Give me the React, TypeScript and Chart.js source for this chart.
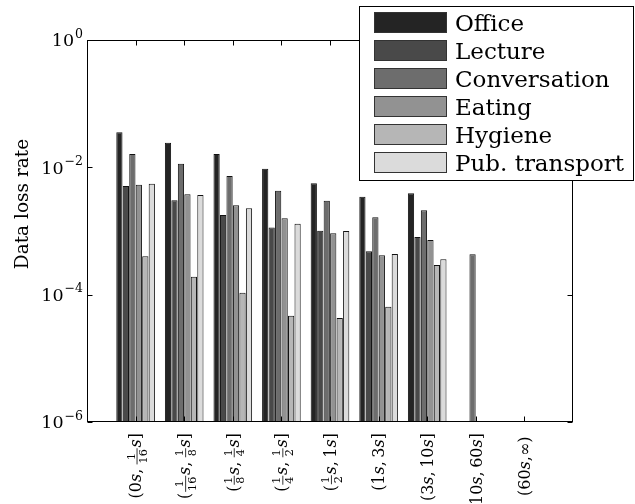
import { useEffect, useRef } from "react";
import { Chart, registerables } from "chart.js";

Chart.register(...registerables);

// ---- data ----
const categories = [
  "(0s, 1/16s]",
  "(1/16s, 1/8s]",
  "(1/8s, 1/4s]",
  "(1/4s, 1/2s]",
  "(1/2s, 1s]",
  "(1s, 3s]",
  "(3s, 10s]",
  "(10s, 60s]",
  "(60s, ∞)",
];

const seriesNames = ["Office", "Lecture", "Conversation", "Eating", "Hygiene", "Pub. transport"];

const office = [0.0355, 0.0244, 0.0162, 0.00952, 0.00562, 0.00346, 0.00391, null, null];
const lecture = [0.00509, 0.00304, 0.00178, 0.00113, 0.00101, 0.00048, 0.000805, null, null];
const conversation = [0.0162, 0.0114, 0.00731, 0.0043, 0.00299, 0.00164, 0.00211, 0.000431, null];
const eating = [0.00534, 0.00377, 0.00253, 0.00158, 0.00092, 0.000416, 0.000722, null, null];
const hygiene = [0.000401, 0.000192, 0.000107, 0.0000468, 0.000043, 0.0000647, 0.000292, null, null];
const pubTransport = [0.00553, 0.00368, 0.00228, 0.0013, 0.001, 0.000436, 0.00036, null, null];

const yTickValues = [1, 1e-2, 1e-4, 1e-6];
const yTickExponents = ["0", "\u22122", "\u22124", "\u22126"];
const yTitle = "Data loss rate";

const seriesColors = ["#242424", "#494949", "#6d6d6d", "#929292", "#b6b6b6", "#dbdbdb"];

const FONT = '"DejaVu Serif"';

type Tok = { kind: "text" | "ital" | "frac"; a: string; b?: string };

function tokenize(s: string): Tok[] {
  const out: Tok[] = [];
  const re = /(\d+)\/(\d+)|(s)|(\d+)|([^s\d\/]+)/g;
  let m: RegExpExecArray | null;
  while ((m = re.exec(s))) {
    if (m[1]) out.push({ kind: "frac", a: m[1], b: m[2] });
    else if (m[3]) out.push({ kind: "ital", a: "s" });
    else out.push({ kind: "text", a: m[0] });
  }
  return out;
}

function drawMathLabel(ctx: CanvasRenderingContext2D, text: string, x: number, yTop: number, fs: number) {
  const toks = tokenize(text);
  const fNormal = `${fs}px ${FONT}`;
  const fItal = `italic ${fs}px ${FONT}`;
  const fSmall = `${fs * 0.7}px ${FONT}`;
  const widths = toks.map((t) => {
    if (t.kind === "frac") {
      ctx.font = fSmall;
      return Math.max(ctx.measureText(t.a).width, ctx.measureText(t.b!).width) + fs * 0.22;
    }
    ctx.font = t.kind === "ital" ? fItal : fNormal;
    if (t.kind === "text" && t.a.includes(" ")) {
      const w = ctx.measureText(t.a.replace(/ /g, "")).width;
      return w + fs * 0.22;
    }
    return ctx.measureText(t.a).width;
  });
  const total = widths.reduce((p, c) => p + c, 0);
  ctx.save();
  ctx.translate(x + fs * 0.36, yTop);
  ctx.rotate(-Math.PI / 2);
  ctx.fillStyle = "#000";
  ctx.strokeStyle = "#000";
  ctx.textBaseline = "alphabetic";
  let cx = -total;
  toks.forEach((t, i) => {
    const w = widths[i];
    if (t.kind === "frac") {
      ctx.font = fSmall;
      ctx.textAlign = "center";
      const mid = cx + w / 2;
      ctx.fillText(t.a, mid, -fs * 0.42);
      ctx.fillText(t.b!, mid, fs * 0.36);
      ctx.lineWidth = 0.8;
      ctx.beginPath();
      ctx.moveTo(cx + fs * 0.05, -fs * 0.27);
      ctx.lineTo(cx + w - fs * 0.05, -fs * 0.27);
      ctx.stroke();
    } else {
      ctx.font = t.kind === "ital" ? fItal : fNormal;
      ctx.textAlign = "left";
      ctx.fillText(t.a.replace(/ /g, ""), cx, 0);
    }
    cx += w;
  });
  ctx.restore();
}

const overlay = {
  id: "overlay",
  afterDatasetsDraw(chart: any) {
    const ctx: CanvasRenderingContext2D = chart.ctx;
    const { left, right, top, bottom } = chart.chartArea;
    const xs = chart.scales.x;
    const ys = chart.scales.y;
    ctx.save();
    ctx.strokeStyle = "#000";
    ctx.lineWidth = 1;
    // frame
    ctx.strokeRect(Math.round(left) + 0.5, Math.round(top) + 0.5, Math.round(right - left) - 1, Math.round(bottom - top) - 1);
    const L = Math.round(left) + 0.5;
    const R = Math.round(right) - 0.5;
    const T = Math.round(top) + 0.5;
    const B = Math.round(bottom) - 0.5;
    // y ticks (inward, both sides)
    yTickValues.forEach((v) => {
      const y = Math.round(ys.getPixelForValue(v)) + 0.5;
      ctx.beginPath();
      ctx.moveTo(L, y);
      ctx.lineTo(L + 5, y);
      ctx.moveTo(R, y);
      ctx.lineTo(R - 5, y);
      ctx.stroke();
    });
    // x ticks (inward, top and bottom)
    categories.forEach((_, i) => {
      const x = Math.round(xs.getPixelForValue(i + 1)) + 0.5;
      ctx.beginPath();
      ctx.moveTo(x, B);
      ctx.lineTo(x, B - 5);
      ctx.moveTo(x, T);
      ctx.lineTo(x, T + 5);
      ctx.stroke();
    });
    // y tick labels
    const fsBig = 17.5;
    const fsSup = 12.5;
    yTickValues.forEach((v, i) => {
      const y = ys.getPixelForValue(v);
      ctx.font = `${fsSup}px ${FONT}`;
      const we = ctx.measureText(yTickExponents[i]).width;
      ctx.font = `${fsBig}px ${FONT}`;
      const wb = ctx.measureText("10").width;
      const rightEdge = 83;
      ctx.fillStyle = "#000";
      ctx.textAlign = "left";
      ctx.textBaseline = "alphabetic";
      ctx.fillText("10", rightEdge - we - wb - 1, y + fsBig * 0.36);
      ctx.font = `${fsSup}px ${FONT}`;
      ctx.fillText(yTickExponents[i], rightEdge - we, y - 2.5);
    });
    // y title
    ctx.save();
    ctx.translate(23, 204);
    ctx.rotate(-Math.PI / 2);
    ctx.font = `18.5px ${FONT}`;
    ctx.textAlign = "center";
    ctx.textBaseline = "middle";
    ctx.fillStyle = "#000";
    ctx.fillText(yTitle, 0, 0);
    ctx.restore();
    // x labels
    categories.forEach((c, i) => {
      const x = xs.getPixelForValue(i + 1);
      drawMathLabel(ctx, c, x, bottom + 11, 16);
    });
    // legend
    const lx = 359.5, ly = 6.5, lw = 274, lh = 174;
    ctx.fillStyle = "#fff";
    ctx.fillRect(lx, ly, lw, lh);
    ctx.strokeStyle = "#000";
    ctx.lineWidth = 1;
    ctx.strokeRect(lx, ly, lw, lh);
    chart.data.datasets.forEach((ds: any, k: number) => {
      const py = 12 + k * 28;
      ctx.fillStyle = ds.backgroundColor;
      ctx.fillRect(374, py, 73, 21);
      ctx.strokeStyle = "#333";
      ctx.strokeRect(374.5, py + 0.5, 72, 20);
      ctx.fillStyle = "#000";
      ctx.font = `23px ${FONT}`;
      ctx.textAlign = "left";
      ctx.textBaseline = "alphabetic";
      ctx.fillText(ds.label, 455, py + 10.5 + 23 * 0.36);
    });
    ctx.restore();
  },
};

export default function App() {
  const ref = useRef<HTMLCanvasElement | null>(null);
  useEffect(() => {
    if (!ref.current) return;
    const all = [office, lecture, conversation, eating, hygiene, pubTransport];
    const chart = new Chart(ref.current, {
      type: "bar",
      data: {
        labels: ["", ...categories, ""],
        datasets: all.map((s, i) => ({
          label: seriesNames[i],
          data: [null, ...s, null],
          backgroundColor: seriesColors[i],
          borderColor: "#111",
          borderWidth: 1,
          barPercentage: 0.96,
          categoryPercentage: 0.8,
        })),
      },
      options: {
        responsive: false,
        animation: false,
        devicePixelRatio: 1,
        layout: { padding: { left: 87, right: 62, top: 40, bottom: 82 } },
        plugins: { legend: { display: false }, tooltip: { enabled: false } },
        scales: {
          x: { type: "category", offset: false, display: false },
          y: { type: "logarithmic", min: 1e-6, max: 1, display: false },
        },
      },
      plugins: [overlay],
    } as any);
    return () => chart.destroy();
  }, []);
  return (
    <div style={{ position: "fixed", left: 0, top: 0, width: 635, height: 504, background: "#fff" }}>
      <canvas ref={ref} width={635} height={504} style={{ display: "block" }} />
    </div>
  );
}
